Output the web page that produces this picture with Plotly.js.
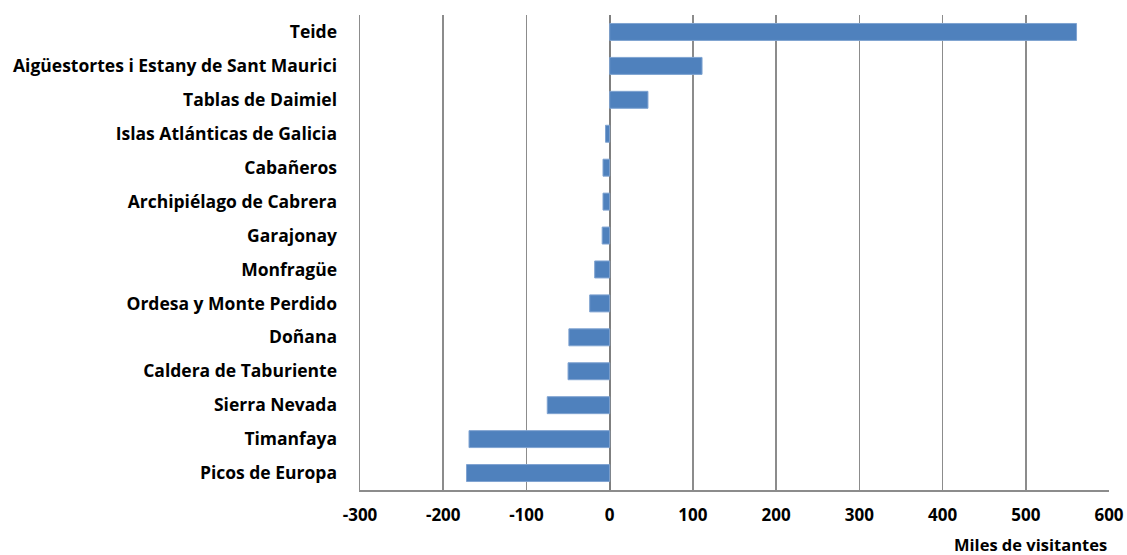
<!DOCTYPE html>
<html><head><meta charset="utf-8">
<script src="https://cdn.plot.ly/plotly-3.0.1.min.js"></script>
<style>html,body{margin:0;padding:0;background:#fff}#chart{width:1127px;height:555px}</style>
</head><body><div id="chart"></div>
<script>
const parks = ["Teide","Aigüestortes i Estany de Sant Maurici","Tablas de Daimiel","Islas Atlánticas de Galicia","Cabañeros","Archipiélago de Cabrera","Garajonay","Monfragüe","Ordesa y Monte Perdido","Doñana","Caldera de Taburiente","Sierra Nevada","Timanfaya","Picos de Europa"];
const change = [561, 111, 46, -5, -8, -8, -9, -18, -24, -49, -50, -75, -169, -172];
const xTicks = [-300,-200,-100,0,100,200,300,400,500,600];
const xTitle = "Miles de visitantes";

const font = "'Open Sans', sans-serif";
Plotly.newPlot('chart', [{
  type:'bar', orientation:'h', y: parks, x: change, width:0.5,
  marker:{color:'#4f81bd', line:{color:'#7fa3d1', width:1}}
}], {
  width:1127, height:555,
  margin:{l:360, r:18, t:15, b:65},
  paper_bgcolor:'#fff', plot_bgcolor:'#fff',
  showlegend:false,
  font:{family:font, color:'#000'},
  xaxis:{range:[-300,600], tickvals:xTicks, ticktext:xTicks.map(String),
    showgrid:true, gridcolor:'#8c8c8c', gridwidth:1.5,
    zeroline:true, zerolinecolor:'#7f7f7f', zerolinewidth:2,
    showline:true, linecolor:'#8c8c8c', linewidth:2,
    ticks:'', tickfont:{family:font, size:17, weight:'bold', color:'#000'},
    ticklabelstandoff:9, fixedrange:true},
  yaxis:{autorange:'reversed', showgrid:false, zeroline:false,
    showline:true, linecolor:'#8c8c8c', linewidth:1.5, ticks:'',
    tickfont:{family:font, size:17.5, weight:'bold', color:'#000'},
    ticklabelstandoff:18, fixedrange:true},
  annotations:[{text:xTitle, xref:'paper', yref:'paper', x:1.0, y:0, yshift:-54, xanchor:'right', yanchor:'middle', showarrow:false,
    font:{family:font, size:16.5, weight:'bold', color:'#000'}}]
}, {displayModeBar:false, staticPlot:true});
</script></body></html>
